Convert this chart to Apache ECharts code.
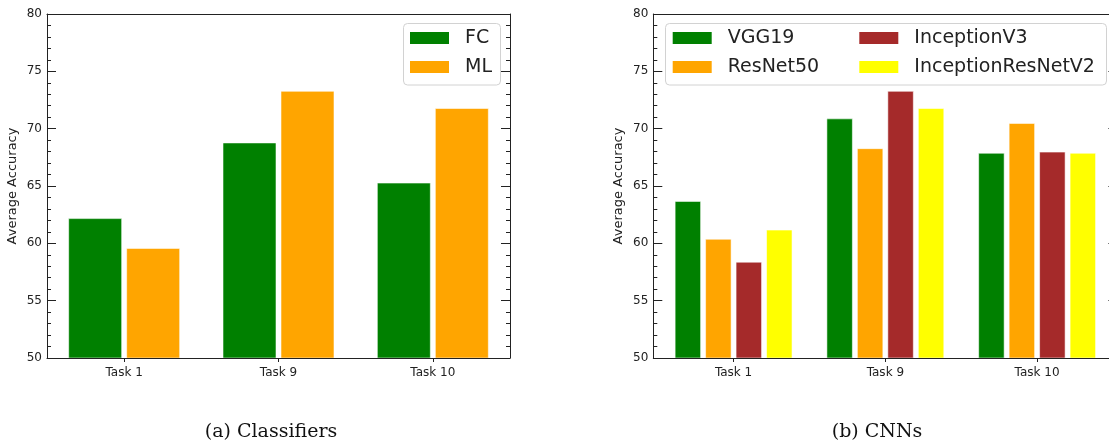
<!DOCTYPE html>
<html>
<head>
<meta charset="utf-8">
<script src="https://cdn.jsdelivr.net/npm/echarts@6/dist/echarts.min.js"></script>
<style>
  html, body { margin: 0; padding: 0; background: #fff; }
  #chart { width: 1109px; height: 446px; }
</style>
</head>
<body>
<div id="chart"></div>
<script>
// Categories and tick labels
const tasks = ['Task 1', 'Task 9', 'Task 10'];
const accuracyTicks = [50, 55, 60, 65, 70, 75, 80];

// (a) Classifiers: average accuracy per task
const classifierNames = ['FC', 'ML'];
const fcAcc = [62.2, 68.8, 65.3];
const mlAcc = [59.6, 73.3, 71.8];

// (b) CNN backbones: average accuracy per task
const cnnNames = ['VGG19', 'ResNet50', 'InceptionV3', 'InceptionResNetV2'];
const vgg19Acc = [63.7, 70.9, 67.9];
const resnet50Acc = [60.4, 68.3, 70.5];
const inceptionV3Acc = [58.4, 73.3, 68.0];
const inceptionResNetV2Acc = [61.2, 71.8, 67.9];

const captions = ['(a) Classifiers', '(b) CNNs'];

// ---- styling ----
const INK = '#222';
const SANS = '"DejaVu Sans", "Liberation Sans", sans-serif';
const classifierColors = ['#008000', '#FFA500'];
const cnnColors = ['#008000', '#FFA500', '#A52A2A', '#FFFF00'];

const yMin = accuracyTicks[0];
const yMax = accuracyTicks[accuracyTicks.length - 1];
const yStep = accuracyTicks[1] - accuracyTicks[0];

// horizontal extent of the CNN panel in task units (group centres at 0, 1, 2)
const cnnXMin = -0.529, cnnXMax = tasks.length - 1 + 0.529;
const taskIdx = tasks.map((_, i) => i);

const lineStyle = { color: INK, width: 1 };

function yAxesFor(grid) {
  const common = {
    gridIndex: grid, type: 'value', min: yMin, max: yMax, interval: yStep,
    splitLine: { show: false },
    axisLine: { show: true, onZero: false, lineStyle },
    axisTick: { show: true, inside: true, length: 9, lineStyle },
    minorTick: { show: true, splitNumber: 5, length: 4, lineStyle },
    z: 3
  };
  return [
    Object.assign({}, common, {
      position: 'left',
      name: 'Average Accuracy', nameLocation: 'middle', nameGap: 28,
      nameTextStyle: { fontSize: 13, color: INK, fontFamily: SANS },
      axisLabel: { fontSize: 12, color: INK, fontFamily: SANS, margin: 5 }
    }),
    Object.assign({}, common, {
      position: 'right',
      axisLabel: { show: false }
    })
  ];
}

const xLabel = { fontSize: 12, color: INK, fontFamily: SANS, margin: 9 };

const xAxes = [
  {
    gridIndex: 0, type: 'category', data: tasks, boundaryGap: true, position: 'bottom',
    axisLine: { show: true, onZero: false, lineStyle },
    axisTick: { show: true, alignWithLabel: true, length: 4, lineStyle },
    axisLabel: xLabel, z: 3
  },
  {
    gridIndex: 0, type: 'category', data: tasks, position: 'top',
    axisLine: { show: true, onZero: false, lineStyle },
    axisTick: { show: false }, axisLabel: { show: false }, z: 3
  },
  {
    gridIndex: 1, type: 'value', min: cnnXMin, max: cnnXMax, position: 'bottom',
    splitLine: { show: false },
    axisLine: { show: true, onZero: false, lineStyle },
    axisTick: { show: true, length: 4, lineStyle, customValues: taskIdx },
    axisLabel: Object.assign({}, xLabel, {
      customValues: taskIdx,
      formatter: v => tasks[Math.round(v)]
    }),
    z: 3
  },
  {
    gridIndex: 1, type: 'value', min: cnnXMin, max: cnnXMax, position: 'top',
    splitLine: { show: false },
    axisLine: { show: true, onZero: false, lineStyle },
    axisTick: { show: false }, axisLabel: { show: false }, z: 3
  }
];

const barEdge = { borderColor: 'rgba(255,255,255,0.55)', borderWidth: 1 };

const classifierSeries = [fcAcc, mlAcc].map((vals, s) => ({
  name: classifierNames[s], type: 'bar',
  xAxisIndex: 0, yAxisIndex: 0,
  data: vals,
  barWidth: 54, barGap: '7.4%',
  itemStyle: Object.assign({ color: classifierColors[s] }, barEdge)
}));

const cnnSeries = [vgg19Acc, resnet50Acc, inceptionV3Acc, inceptionResNetV2Acc].map((vals, s) => ({
  name: cnnNames[s], type: 'bar',
  xAxisIndex: 2, yAxisIndex: 2,
  data: vals.map((v, i) => [i, v]),
  barWidth: 26.5, barGap: '15%',
  itemStyle: Object.assign({ color: cnnColors[s] }, barEdge)
}));

function legendAt(names, left) {
  return {
    data: names, orient: 'vertical', left: left, top: 28.5,
    padding: 0, itemWidth: 39, itemHeight: 12, itemGap: 10,
    icon: 'rect', selectedMode: false,
    itemStyle: { borderWidth: 0 },
    textStyle: { fontSize: 19, color: INK, fontFamily: SANS, padding: [0, 0, 0, 11] }
  };
}

const frameStyle = { fill: 'rgba(255,255,255,0.85)', stroke: '#d2d2d2', lineWidth: 1 };

const option = {
  animation: false,
  backgroundColor: '#fff',
  grid: [
    { left: 47, top: 14, width: 463, height: 344, containLabel: false, outerBoundsMode: 'none' },
    // the right-hand panel runs slightly past the page edge
    { left: 653.3, top: 14, width: 464.1, height: 344, containLabel: false, outerBoundsMode: 'none' }
  ],
  xAxis: xAxes,
  yAxis: yAxesFor(0).concat(yAxesFor(1)),
  legend: [
    legendAt(classifierNames, 410),
    legendAt([cnnNames[0], cnnNames[1]], 672.7),
    legendAt([cnnNames[2], cnnNames[3]], 859.3)
  ],
  graphic: [
    { type: 'rect', z: 1, shape: { x: 403.5, y: 23.5, width: 97, height: 61.5, r: 4 }, style: frameStyle },
    { type: 'rect', z: 1, shape: { x: 665.5, y: 23.5, width: 441, height: 61.5, r: 4 }, style: frameStyle },
    { type: 'text', x: 271, y: 432, style: { text: captions[0], font: '19px "DejaVu Serif", serif', fill: '#111', align: 'center', verticalAlign: 'middle' } },
    { type: 'text', x: 877, y: 432, style: { text: captions[1], font: '19px "DejaVu Serif", serif', fill: '#111', align: 'center', verticalAlign: 'middle' } }
  ],
  series: classifierSeries.concat(cnnSeries)
};

const chart = echarts.init(document.getElementById('chart'), null, { renderer: 'canvas' });
chart.setOption(option);
</script>
</body>
</html>
